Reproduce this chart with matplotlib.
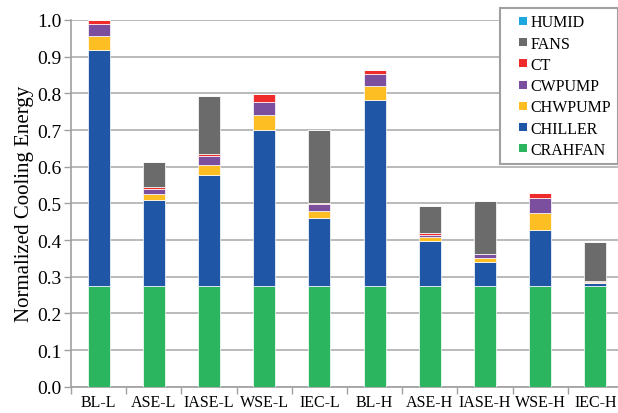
import matplotlib
matplotlib.use("Agg")
import matplotlib.pyplot as plt
from matplotlib import font_manager as fm
from matplotlib.patches import Patch, Rectangle
from matplotlib.legend_handler import HandlerPatch
import numpy as np

categories = ["BL-L", "ASE-L", "IASE-L", "WSE-L", "IEC-L",
              "BL-H", "ASE-H", "IASE-H", "WSE-H", "IEC-H"]

crahfan = [0.274, 0.274, 0.274, 0.274, 0.274, 0.274, 0.274, 0.274, 0.274, 0.274]
chiller = [0.645, 0.234, 0.304, 0.426, 0.185, 0.507, 0.124, 0.066, 0.154, 0.010]
chwpump = [0.036, 0.017, 0.027, 0.041, 0.020, 0.038, 0.009, 0.011, 0.046, 0.001]
cwpump  = [0.034, 0.015, 0.025, 0.036, 0.018, 0.033, 0.0075, 0.010, 0.040, 0.001]
ct      = [0.011, 0.005, 0.004, 0.021, 0.003, 0.011, 0.0055, 0.002, 0.015, 0.002]
fans    = [0.000, 0.069, 0.159, 0.000, 0.200, 0.000, 0.072, 0.144, 0.000, 0.107]
humid   = [0.0] * 10

series = [
    ("CRAHFAN", crahfan, "#2bb55e"),
    ("CHILLER", chiller, "#1f56a5"),
    ("CHWPUMP", chwpump, "#fdbe24"),
    ("CWPUMP", cwpump, "#7b4e9e"),
    ("CT", ct, "#ee2c2c"),
    ("FANS", fans, "#6b6b6b"),
    ("HUMID", humid, "#1da8e0"),
]

# pick a Times-like serif face that is installed
serif_name = "DejaVu Serif"
for f in fm.fontManager.ttflist:
    if "Liberation Serif" in f.name:
        serif_name = f.name
        break
plt.rcParams["font.family"] = "serif"
plt.rcParams["font.serif"] = [serif_name, "DejaVu Serif"]


class SquareAtRight(HandlerPatch):
    """Small square legend key placed at the right end of the handle box."""
    def create_artists(self, legend, orig_handle, xdescent, ydescent,
                       width, height, fontsize, trans):
        side = 0.5 * fontsize
        x0 = -xdescent + width - side
        y0 = -ydescent + (height - side) / 2
        r = Rectangle((x0, y0), side, side,
                      facecolor=orig_handle.get_facecolor(), edgecolor="none",
                      transform=trans)
        return [r]


fig = plt.figure(figsize=(6.18, 4.14), dpi=100)
ax = fig.add_axes([0.1149, 0.0635, 0.893, 0.8858])

x = np.arange(len(categories))
bottom = np.zeros(len(categories))
for name, vals, color in series:
    vals = np.array(vals)
    ax.bar(x, vals, width=0.4, bottom=bottom, color=color,
           edgecolor="white", linewidth=0.5, zorder=3)
    bottom += vals

ax.set_xlim(-0.5, len(categories) - 0.5)
ax.set_ylim(0, 1.0)
ax.set_yticks(np.arange(0, 1.01, 0.1))
ax.set_yticklabels([f"{v:.1f}" for v in np.arange(0, 1.01, 0.1)], fontsize=14)
ax.yaxis.grid(True, color="#b4b4b4", linewidth=1.3, zorder=0)
ax.set_axisbelow(True)

ax.set_xticks(x)
ax.set_xticklabels(categories, fontsize=11.5)
ax.set_xticks(np.arange(-0.5, len(categories), 1.0), minor=True)
ax.tick_params(axis="x", which="major", length=0, pad=5)
ax.tick_params(axis="x", which="minor", length=5, color="#a0a0a0", width=1)
ax.tick_params(axis="y", length=5, color="#a0a0a0", width=1, pad=2)

for side in ("top", "right"):
    ax.spines[side].set_visible(False)
for side in ("left", "bottom"):
    ax.spines[side].set_color("#a0a0a0")
    ax.spines[side].set_linewidth(1.2)

ax.set_ylabel("Normalized Cooling Energy", fontsize=15, labelpad=2)

handles = [Patch(facecolor=c, edgecolor="none", label=n) for n, _, c in reversed(series)]
leg = fig.legend(handles=handles, loc="upper right",
                 bbox_to_anchor=(617.5 / 618, 1 - 9 / 414), borderaxespad=0,
                 fontsize=11.5,
                 handler_map={Patch: SquareAtRight()},
                 handlelength=1.3, handleheight=0.5, handletextpad=0.2,
                 labelspacing=0.33, borderpad=0.4, fancybox=False,
                 framealpha=1, edgecolor="#a0a0a0")
leg.get_frame().set_linewidth(1.5)

fig.savefig("out.png", dpi=100)
